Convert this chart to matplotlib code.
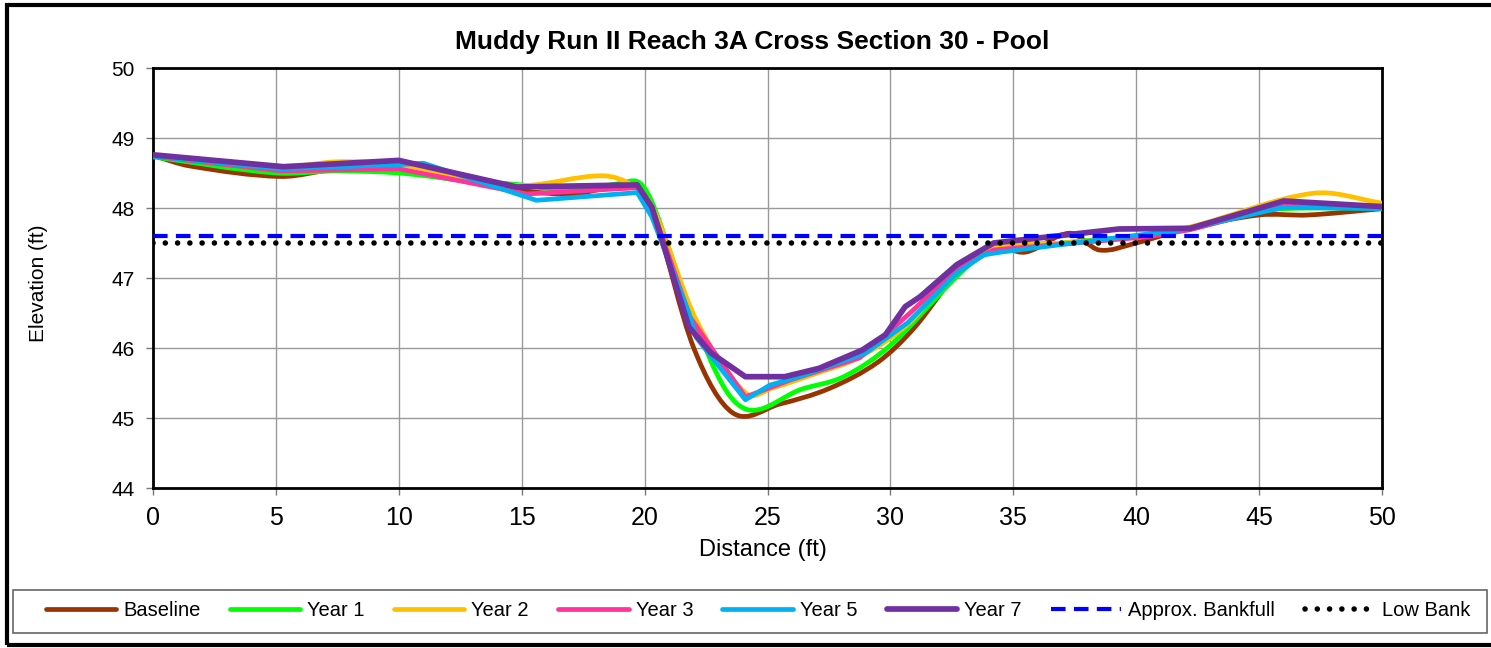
import numpy as np
import matplotlib
matplotlib.use("Agg")
import matplotlib.pyplot as plt
from matplotlib.path import Path
from matplotlib.patches import PathPatch, Rectangle
from matplotlib.lines import Line2D

plt.rcParams['font.family'] = ['Liberation Sans', 'DejaVu Sans']

# survey points (distance ft, elevation ft)
baseline_x = [0, 1.5, 5.2, 7.5, 10.5, 15, 17, 19.8, 20.4, 22.0, 23.6, 25.5, 27.5, 29.5, 31, 33, 34.2, 35.5, 37.3, 38.5, 40, 42, 45, 47, 50]
baseline_y = [48.75, 48.6, 48.45, 48.55, 48.5, 48.25, 48.2, 48.3, 47.9, 46.0, 45.07, 45.2, 45.42, 45.8, 46.3, 47.2, 47.45, 47.37, 47.64, 47.4, 47.5, 47.7, 47.9, 47.9, 47.99]

year1_x = [0, 5, 7.5, 10, 12.5, 15, 17, 19, 19.8, 20.4, 21.9, 23.3, 24.4, 26.3, 28.1, 30, 32.5, 33.6, 34.2, 37, 40, 42.2, 44.6, 46, 50]
year1_y = [48.73, 48.5, 48.53, 48.5, 48.4, 48.33, 48.25, 48.35, 48.36, 48.0, 46.5, 45.4, 45.11, 45.4, 45.59, 46.04, 46.95, 47.3, 47.37, 47.5, 47.6, 47.7, 47.92, 47.99, 48.0]

year2_x = [0, 5, 7.5, 10, 12.5, 15, 18.3, 19.6, 20.4, 22.1, 24.1, 25.2, 27, 28.75, 30.8, 32.7, 34.2, 37, 40, 42.2, 47.2, 50]
year2_y = [48.75, 48.58, 48.66, 48.62, 48.45, 48.32, 48.46, 48.3, 47.95, 46.4, 45.36, 45.43, 45.64, 45.87, 46.37, 47.16, 47.45, 47.5, 47.6, 47.73, 48.21, 48.07]

year3_x = [0, 5.2, 10, 15.2, 19.7, 20.4, 21.85, 24.1, 25.9, 28.75, 30.8, 32.7, 34.2, 40.5, 42.2, 46, 50]
year3_y = [48.74, 48.53, 48.56, 48.2, 48.29, 47.9, 46.44, 45.3, 45.54, 45.86, 46.5, 47.13, 47.4, 47.59, 47.69, 48.04, 48.0]

year5_x = [0, 5.2, 10, 11, 15.6, 19.7, 20.3, 21.8, 22.1, 24.1, 25.1, 26.3, 29, 30.7, 32.7, 33.8, 34.5, 37.7, 41.9, 46, 50]
year5_y = [48.74, 48.56, 48.62, 48.64, 48.11, 48.22, 47.87, 46.5, 46.15, 45.26, 45.47, 45.59, 45.93, 46.36, 47.07, 47.33, 47.37, 47.51, 47.69, 48.01, 47.99]

year7_x = [0, 5.3, 10, 14.8, 19.7, 20.3, 21.8, 22.7, 24.1, 25.7, 27.1, 28.85, 29.8, 30.6, 31.2, 32.7, 34.2, 39.3, 42.2, 46, 50]
year7_y = [48.76, 48.59, 48.68, 48.3, 48.33, 48.01, 46.3, 45.93, 45.59, 45.59, 45.71, 45.97, 46.19, 46.59, 46.73, 47.19, 47.5, 47.7, 47.71, 48.1, 48.02]

bankfull_x = [0, 50]
bankfull_y = [47.6, 47.6]
lowbank_x = [0, 50]
lowbank_y = [47.5, 47.5]

labels = ['Baseline', 'Year 1', 'Year 2', 'Year 3', 'Year 5', 'Year 7', 'Approx. Bankfull', 'Low Bank']
colors = ['#993300', '#00FF00', '#FFC000', '#FF3399', '#00B0F0', '#7030A0', '#0000FF', '#000000']


def smooth_path(xs, ys):
    # smoothed line: cubic hermite bezier segments through the survey points
    x = np.asarray(xs, float)
    y = np.asarray(ys, float)
    n = len(x)
    d = np.zeros(n)
    for i in range(n):
        a = max(i - 1, 0)
        b = min(i + 1, n - 1)
        d[i] = (y[b] - y[a]) / (x[b] - x[a])
    verts = [(x[0], y[0])]
    codes = [Path.MOVETO]
    for i in range(n - 1):
        h = (x[i + 1] - x[i]) / 3.0
        verts += [(x[i] + h, y[i] + d[i] * h), (x[i + 1] - h, y[i + 1] - d[i + 1] * h), (x[i + 1], y[i + 1])]
        codes += [Path.CURVE4] * 3
    return Path(verts, codes)


fig = plt.figure(figsize=(14.91, 6.48), dpi=100)
ax = fig.add_axes([153 / 1491, 1 - 488 / 648, (1382 - 153) / 1491, (488 - 68) / 648])

lw = 3.4
lw7 = 4.1
series = [(baseline_x, baseline_y, True), (year1_x, year1_y, True), (year2_x, year2_y, True),
          (year3_x, year3_y, False), (year5_x, year5_y, False), (year7_x, year7_y, False)]
for k, (xs, ys, smooth) in enumerate(series):
    w = lw7 if k == 5 else lw
    if smooth:
        ax.add_patch(PathPatch(smooth_path(xs, ys), fill=False, edgecolor=colors[k], lw=w,
                               capstyle='round', joinstyle='round', zorder=3 + k))
    else:
        ax.plot(xs, ys, color=colors[k], lw=w, solid_capstyle='round',
                solid_joinstyle='round', zorder=3 + k)

ax.plot(bankfull_x, bankfull_y, color=colors[6], lw=3.0, linestyle=(0, (3.5, 2.0)), zorder=10)
ax.plot(lowbank_x, lowbank_y, color=colors[7], lw=4.0, linestyle=(0, (0.01, 2.2)),
        dash_capstyle='round', zorder=11)

ax.set_xlim(0, 50)
ax.set_ylim(44, 50)
ax.set_xticks(np.arange(0, 51, 5))
ax.set_yticks(np.arange(44, 51, 1))
ax.grid(True, color='#999999', lw=1.0)
ax.set_axisbelow(True)
for s in ax.spines.values():
    s.set_linewidth(2.0)
    s.set_color('black')
ax.tick_params(axis='both', direction='out', length=5, width=1.0, color='#777777')
ax.tick_params(axis='x', labelsize=18, pad=8)
ax.tick_params(axis='y', labelsize=15, pad=8)

fig.text(752 / 1491, 1 - 42 / 648, 'Muddy Run II Reach 3A Cross Section 30 - Pool',
         fontsize=19, fontweight='bold', ha='center', va='center')
fig.text(763 / 1491, 1 - 550 / 648, 'Distance (ft)', fontsize=17, ha='center', va='center')
fig.text(38 / 1491, 1 - 283 / 648, 'Elevation (ft)', fontsize=15, ha='center', va='center',
         rotation=90)

handles = []
for k in range(6):
    handles.append(Line2D([], [], color=colors[k], lw=lw7 if k == 5 else lw, solid_capstyle='round'))
handles.append(Line2D([], [], color=colors[6], lw=3.0, linestyle=(0, (3.5, 2.0))))
handles.append(Line2D([], [], color=colors[7], lw=4.0, linestyle=(0, (0.01, 2.2)), dash_capstyle='round'))

fig.legend(handles, labels, loc='center', bbox_to_anchor=(758 / 1491, 1 - 611 / 648),
           ncol=8, frameon=False, fontsize=14.5, handlelength=3.5, handletextpad=0.35,
           columnspacing=1.45)

fig.patches.append(Rectangle((13 / 1491, 1 - 633 / 648), (1487 - 13) / 1491, 43 / 648,
                             transform=fig.transFigure, fill=False, edgecolor='#666666', lw=1.2))
fig.patches.append(Rectangle((7 / 1491, 3 / 648), 1.2, 1 - 8 / 648,
                             transform=fig.transFigure, fill=False, edgecolor='black', lw=3.0))

fig.savefig('out.png', dpi=100)
